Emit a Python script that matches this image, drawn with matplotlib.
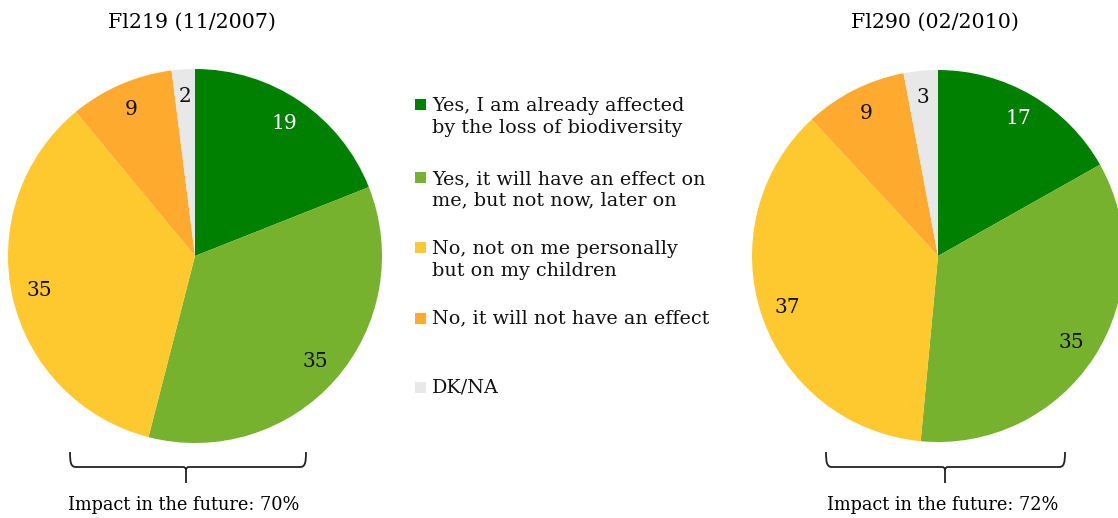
import numpy as np
import matplotlib.pyplot as plt
from matplotlib.path import Path
from matplotlib.patches import PathPatch

# survey results (%)
answers = ["Yes, I am already affected\nby the loss of biodiversity",
           "Yes, it will have an effect on\nme, but not now, later on",
           "No, not on me personally\nbut on my children",
           "No, it will not have an effect",
           "DK/NA"]
colors = ["#008000", "#77b22f", "#fdc92f", "#fdaa2f", "#e8e8e8"]
fl219 = [19, 35, 35, 9, 2]
fl290 = [17, 35, 37, 9, 3]
titles = ["Fl219 (11/2007)", "Fl290 (02/2010)"]
future = ["Impact in the future: 70%", "Impact in the future: 72%"]

FONT = "DejaVu Serif"
W, H = 1118, 518

fig = plt.figure(figsize=(W / 100, H / 100), dpi=100)
ax = fig.add_axes([0, 0, 1, 1])


def drawPie(vals, cx, cy, r, title, note, bx0, bx1, tick_x):
    # y axis is flipped, so startangle=-90 is 12 o'clock and ccw looks clockwise
    wedges, _ = ax.pie(vals, colors=colors, startangle=-90, counterclock=True,
                       center=(cx, cy), radius=r,
                       wedgeprops=dict(linewidth=0))
    for i, w in enumerate(wedges):
        mid = np.deg2rad((w.theta1 + w.theta2) / 2)
        d = 0.855 * r
        ax.text(cx + d * np.cos(mid), cy + d * np.sin(mid), str(vals[i]),
                ha="center", va="center", fontsize=14.5, family=FONT,
                color="white" if i == 0 else "#111111")
    ax.text(cx - 3, 22, title, ha="center", va="center", fontsize=14.8, family=FONT)
    # curly bracket underneath
    y0, y1 = 452, 467
    verts = [(bx0, y0), (bx0, y1 - 4), (bx0 + 1, y1), (bx0 + 6, y1),
             (tick_x - 3, y1), (tick_x, y1), (tick_x, y1 + 3), (tick_x, 483),
             (tick_x, y1 + 3), (tick_x, y1), (tick_x + 3, y1),
             (bx1 - 6, y1), (bx1 - 1, y1), (bx1, y1 - 4), (bx1, y0)]
    codes = [Path.MOVETO, Path.CURVE4, Path.CURVE4, Path.CURVE4,
             Path.LINETO, Path.CURVE3, Path.CURVE3, Path.LINETO,
             Path.MOVETO, Path.CURVE3, Path.CURVE3,
             Path.LINETO, Path.CURVE4, Path.CURVE4, Path.CURVE4]
    ax.add_patch(PathPatch(Path(verts, codes), fill=False, lw=1.3, color="#222222"))
    ax.text(tick_x - 2, 505, note, ha="center", va="center", fontsize=12.8, family=FONT)


drawPie(fl219, 195, 256, 187, titles[0], future[0], 70, 306, 186)
drawPie(fl290, 938, 256, 186, titles[1], future[1], 826, 1065, 945)

# legend
leg_y = [117, 190, 260, 318, 387]
for i, lab in enumerate(answers):
    two = "\n" in lab
    ax.add_patch(plt.Rectangle((415, leg_y[i] - 12.5 - 5.5 if two else leg_y[i] - 5.5), 11, 11,
                               color=colors[i], lw=0))
    ax.text(432, leg_y[i], lab, ha="left", va="center", fontsize=13.8, family=FONT,
            linespacing=1.25, color="#111111")

ax.set_xlim(0, W)
ax.set_ylim(H, 0)
ax.set_aspect("auto")
ax.axis("off")
plt.savefig("out.png", dpi=100)
